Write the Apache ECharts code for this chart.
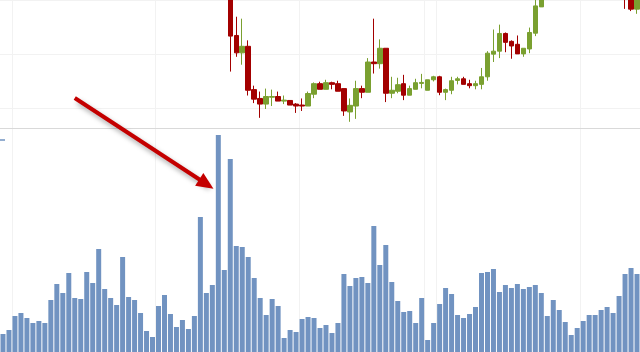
<!DOCTYPE html>
<html>
<head>
<meta charset="utf-8">
<script src="https://cdn.jsdelivr.net/npm/echarts@6/dist/echarts.min.js"></script>
<style>
  html, body { margin: 0; padding: 0; background: #fff; }
  #main { width: 640px; height: 352px; }
</style>
</head>
<body>
<div id="main"></div>
<script>
// daily candles: [open, close, low, high]
var candles = [
    [125.8, 126.4, 125.1, 127.0], [126.4, 125.9, 125.3, 126.9], [125.9, 127.2, 125.6, 127.8],
    [127.2, 126.6, 126.0, 127.9], [126.6, 126.1, 125.5, 127.0], [126.1, 126.8, 125.8, 127.3],
    [126.8, 126.3, 125.9, 127.2], [126.3, 126.0, 125.4, 126.7], [126.0, 124.8, 124.2, 126.3],
    [124.8, 123.6, 123.1, 125.2], [123.6, 124.5, 123.2, 125.0], [124.5, 122.9, 122.4, 124.9],
    [122.9, 123.8, 122.6, 124.2], [123.8, 124.6, 123.5, 125.1], [124.6, 123.1, 122.7, 125.0],
    [123.1, 122.4, 121.9, 123.6], [122.4, 124.0, 121.8, 124.6], [124.0, 123.2, 122.8, 124.5],
    [123.2, 123.9, 122.9, 124.3], [123.9, 124.7, 123.6, 125.2], [124.7, 123.4, 122.9, 125.6],
    [123.4, 123.8, 123.0, 124.2], [123.8, 124.3, 123.5, 124.8], [124.3, 124.1, 123.8, 124.6],
    [124.1, 124.4, 123.9, 124.7], [124.4, 125.3, 124.2, 125.7], [125.3, 124.9, 124.5, 125.9],
    [124.9, 125.6, 124.6, 126.0], [125.6, 125.2, 124.9, 125.9], [125.2, 125.5, 125.0, 125.8],
    [125.5, 125.0, 124.7, 125.7], [125.0, 125.4, 124.8, 125.6], [125.4, 124.6, 124.3, 125.7],
    [124.6, 122.1, 121.6, 124.9], [122.1, 122.8, 121.7, 123.4], [122.8, 122.3, 121.9, 123.3],
    [122.3, 120.9, 120.6, 124.0], [120.9, 121.4, 120.5, 122.2], [121.4, 113.33, 106.78, 121.9],
    [113.45, 110.24, 109.51, 116.91], [110.24, 111.45, 108.05, 116.55], [111.45, 103.33, 102.36, 112.55],
    [103.45, 101.69, 100.96, 104.18], [101.82, 100.78, 98.24, 103.09], [100.78, 102.18, 99.87, 103.64],
    [102.05, 102.18, 100.42, 103.45], [102.18, 101.33, 101.33, 103.09], [101.33, 101.51, 100.78, 102.36],
    [101.45, 100.6, 100.6, 101.45], [100.78, 100.42, 99.15, 100.96], [100.6, 100.42, 99.51, 101.82],
    [100.42, 102.73, 100.42, 103.09], [102.6, 104.55, 101.87, 104.78], [104.55, 103.51, 103.51, 104.91],
    [103.51, 104.73, 103.51, 105.27], [104.73, 104.42, 103.51, 104.91], [104.55, 103.15, 103.15, 105.09],
    [103.64, 99.51, 98.6, 103.64], [99.33, 100.55, 97.51, 101.82], [100.42, 103.64, 98.05, 105.09],
    [103.64, 102.96, 101.87, 104.18], [102.96, 108.55, 102.96, 109.27], [108.55, 108.24, 106.42, 116.55],
    [108.24, 111.09, 107.33, 112.73], [111.09, 102.78, 101.15, 111.09], [102.78, 103.33, 101.87, 105.82],
    [103.15, 104.36, 102.78, 105.64], [104.55, 102.42, 101.51, 106.18], [102.42, 103.64, 102.42, 104.18],
    [103.51, 104.73, 103.51, 105.45], [104.6, 104.78, 103.69, 106.36], [103.33, 105.27, 103.33, 105.27],
    [105.27, 105.82, 104.96, 106.0], [105.82, 102.96, 102.42, 106.0], [102.96, 103.45, 101.51, 103.64],
    [103.33, 105.09, 102.6, 105.82], [105.15, 105.45, 104.42, 105.82], [105.45, 104.42, 104.42, 105.82],
    [104.55, 104.18, 103.69, 105.27], [104.18, 104.55, 103.51, 105.09], [104.42, 105.82, 103.51, 107.45],
    [105.82, 110.18, 105.09, 110.55], [110.0, 110.55, 108.55, 114.55], [110.55, 113.82, 109.27, 115.45],
    [113.82, 112.18, 110.36, 114.0], [112.36, 111.51, 109.15, 112.55], [111.82, 110.05, 110.05, 113.45],
    [110.05, 111.09, 109.51, 111.09], [110.96, 114.0, 110.18, 114.91], [113.87, 118.91, 113.33, 120.2],
    [118.73, 121.6, 118.73, 122.3], [121.6, 122.4, 121.2, 123.0], [122.4, 121.9, 121.3, 122.8],
    [121.9, 123.1, 121.6, 123.6], [123.1, 122.5, 122.1, 123.5], [122.5, 123.4, 122.2, 123.9],
    [123.4, 124.2, 123.0, 124.6], [124.2, 123.7, 123.3, 124.5], [123.7, 124.5, 123.4, 124.9],
    [124.5, 123.8, 123.5, 124.8], [123.8, 123.1, 122.7, 124.1], [123.1, 122.6, 122.2, 123.4],
    [122.6, 121.9, 121.5, 122.9], [121.9, 121.2, 120.8, 122.2], [121.2, 120.6, 118.36, 121.5],
    [120.6, 118.31, 117.95, 120.9], [118.31, 120.4, 117.45, 120.8]
];

var volumes = [
    18, 22, 36, 39, 34, 29, 31, 29, 52, 68, 59, 79, 54, 53, 80, 69, 103, 63, 54, 47,
    95, 55, 52, 39, 21, 15, 46, 57, 38, 25, 32, 23, 36, 135, 59, 67, 217, 82, 193, 106,
    105, 95, 74, 54, 37, 53, 46, 14, 22, 20, 33, 35, 34, 24, 27, 19, 29, 78, 66, 74,
    75, 69, 126, 87, 107, 70, 51, 40, 41, 29, 54, 12, 29, 48, 64, 58, 37, 34, 38, 45,
    79, 80, 83, 60, 67, 64, 68, 63, 65, 67, 59, 36, 52, 42, 30, 17, 24, 31, 37, 37,
    42, 45, 39, 56, 78, 84, 78
];

var days = volumes.map(function (v, i) { return String(i + 1); });

// category indexes where a new month starts (vertical grid lines)
var monthStarts = [2, 26, 50, 71, 73, 97];
var volumeTicks = [212];

// arrow annotation, [day index, volume scale value]
var arrowFrom = [12, 254];
var arrowTo = [34, 168];

var upColor = '#7aa030';
var downColor = '#a30000';
var volColor = '#7193c1';

var myChart = echarts.init(document.getElementById('main'));

var option = {
    animation: false,
    grid: [
        { left: -0.5, right: -1.5, top: -2, bottom: 224 },
        { left: -0.5, right: -1.5, top: 0, bottom: 0 }
    ],
    xAxis: [
        {
            type: 'category',
            gridIndex: 0,
            data: days,
            boundaryGap: true,
            axisLine: { show: true, lineStyle: { color: '#d9d9d9', width: 1 } },
            axisTick: { show: false },
            axisLabel: { show: false },
            splitLine: { show: false }
        },
        {
            type: 'category',
            gridIndex: 1,
            data: days,
            boundaryGap: true,
            axisLine: { show: false },
            axisTick: { show: false },
            axisLabel: { show: false },
            splitLine: {
                show: true,
                interval: function (index) {
                    return monthStarts.indexOf(index) >= 0;
                },
                lineStyle: { color: '#f2f2f2', width: 1 }
            }
        }
    ],
    yAxis: [
        {
            type: 'value',
            gridIndex: 0,
            min: 100 - 20 / 5.5,
            max: 120,
            splitNumber: 2,
            axisLine: { show: false },
            axisTick: { show: false },
            axisLabel: { show: false },
            splitLine: { show: true, lineStyle: { color: '#f2f2f2', width: 1 } }
        },
        {
            type: 'value',
            gridIndex: 1,
            min: 0,
            max: 352,
            axisLine: { show: false },
            axisTick: {
                show: true,
                inside: true,
                length: 5,
                customValues: volumeTicks,
                lineStyle: { color: volColor, width: 1.5 }
            },
            axisLabel: { show: false },
            splitLine: { show: false }
        }
    ],
    series: [
        {
            name: 'Volume',
            type: 'bar',
            xAxisIndex: 1,
            yAxisIndex: 1,
            data: volumes,
            barWidth: 5,
            itemStyle: { color: volColor },
            markLine: {
                silent: true,
                symbol: ['none', 'triangle'],
                symbolSize: [15, 17],
                label: { show: false },
                lineStyle: {
                    color: '#c40000',
                    width: 4,
                    type: 'solid',
                    shadowBlur: 5,
                    shadowColor: 'rgba(0,0,0,0.35)',
                    shadowOffsetX: 3,
                    shadowOffsetY: 4
                },
                data: [[{ coord: arrowFrom }, { coord: arrowTo }]]
            }
        },
        {
            name: 'Price',
            type: 'candlestick',
            xAxisIndex: 0,
            yAxisIndex: 0,
            data: candles,
            barWidth: 5,
            itemStyle: {
                color: upColor,
                color0: downColor,
                borderColor: upColor,
                borderColor0: downColor,
                borderWidth: 1
            }
        }
    ]
};

myChart.setOption(option);
</script>
</body>
</html>
